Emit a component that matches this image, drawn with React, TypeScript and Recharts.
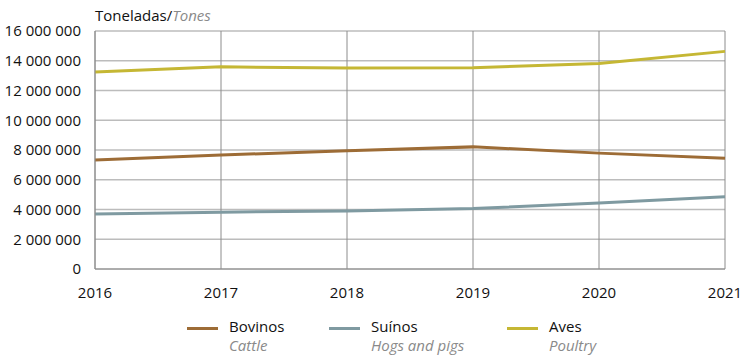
import React from "react";
import { LineChart, Line, XAxis, YAxis, CartesianGrid } from "recharts";

const years = ["2016", "2017", "2018", "2019", "2020", "2021"];
const bovinos = [7330000, 7660000, 7950000, 8210000, 7790000, 7440000];
const suinos = [3700000, 3820000, 3900000, 4060000, 4430000, 4850000];
const aves = [13240000, 13590000, 13510000, 13530000, 13820000, 14630000];
const yTicks = [0, 2000000, 4000000, 6000000, 8000000, 10000000, 12000000, 14000000, 16000000];

const seriesInfo = [
  { key: "bovinos", name: "Bovinos", en: "Cattle", color: "#9d6c36", x: 187 },
  { key: "suinos", name: "Suínos", en: "Hogs and pigs", color: "#7f9aa1", x: 329 },
  { key: "aves", name: "Aves", en: "Poultry", color: "#c5b734", x: 507 },
];

const data = years.map((y, i) => ({ year: y, bovinos: bovinos[i], suinos: suinos[i], aves: aves[i] }));

const fmt = (v: number) => String(v).replace(/\B(?=(\d{3})+(?!\d))/g, " ");

const FONT = "'Open Sans', sans-serif";

export default function App() {
  return (
    <div style={{ position: "absolute", left: 0, top: 0, width: 745, height: 355, background: "#fff", fontFamily: FONT }}>
      <div style={{ position: "absolute", left: 95, top: 5, fontSize: 15, color: "#111", whiteSpace: "nowrap" }}>
        Toneladas/<span style={{ fontStyle: "italic", color: "#8a8a8a" }}>Tones</span>
      </div>
      <LineChart width={745} height={312} data={data} margin={{ top: 31, right: 20, bottom: 0, left: 0 }}>
        <CartesianGrid horizontal={true} vertical={false} stroke="#bcbcbc" strokeWidth={1.5} />
        <CartesianGrid horizontal={false} vertical={true} stroke="#8c8c8c" strokeWidth={1} />
        <XAxis
          dataKey="year"
          axisLine={{ stroke: "#8c8c8c" }}
          tickLine={false}
          interval={0}
          height={43}
          tick={{ fontSize: 15, fill: "#111", fontFamily: FONT }}
          tickMargin={12}
        />
        <YAxis
          domain={[0, 16000000]}
          ticks={yTicks}
          tickFormatter={fmt}
          axisLine={{ stroke: "#8c8c8c" }}
          tickLine={false}
          width={95}
          tick={{ fontSize: 15, fill: "#111", fontFamily: FONT }}
          tickMargin={8}
        />
        {seriesInfo.map((s) => (
          <Line key={s.key} type="linear" dataKey={s.key} name={s.name} stroke={s.color} strokeWidth={3} dot={false} isAnimationActive={false} />
        ))}
      </LineChart>
      {seriesInfo.map((s) => (
        <div key={s.key} style={{ position: "absolute", left: s.x, top: 317, whiteSpace: "nowrap" }}>
          <div style={{ position: "absolute", left: 0, top: 10, width: 31, height: 3, background: s.color }} />
          <div style={{ position: "absolute", left: 42, top: 0, fontSize: 15, color: "#111", lineHeight: "19px" }}>{s.name}</div>
          <div style={{ position: "absolute", left: 42, top: 19, fontSize: 15, color: "#8a8a8a", fontStyle: "italic", lineHeight: "19px" }}>{s.en}</div>
        </div>
      ))}
    </div>
  );
}
